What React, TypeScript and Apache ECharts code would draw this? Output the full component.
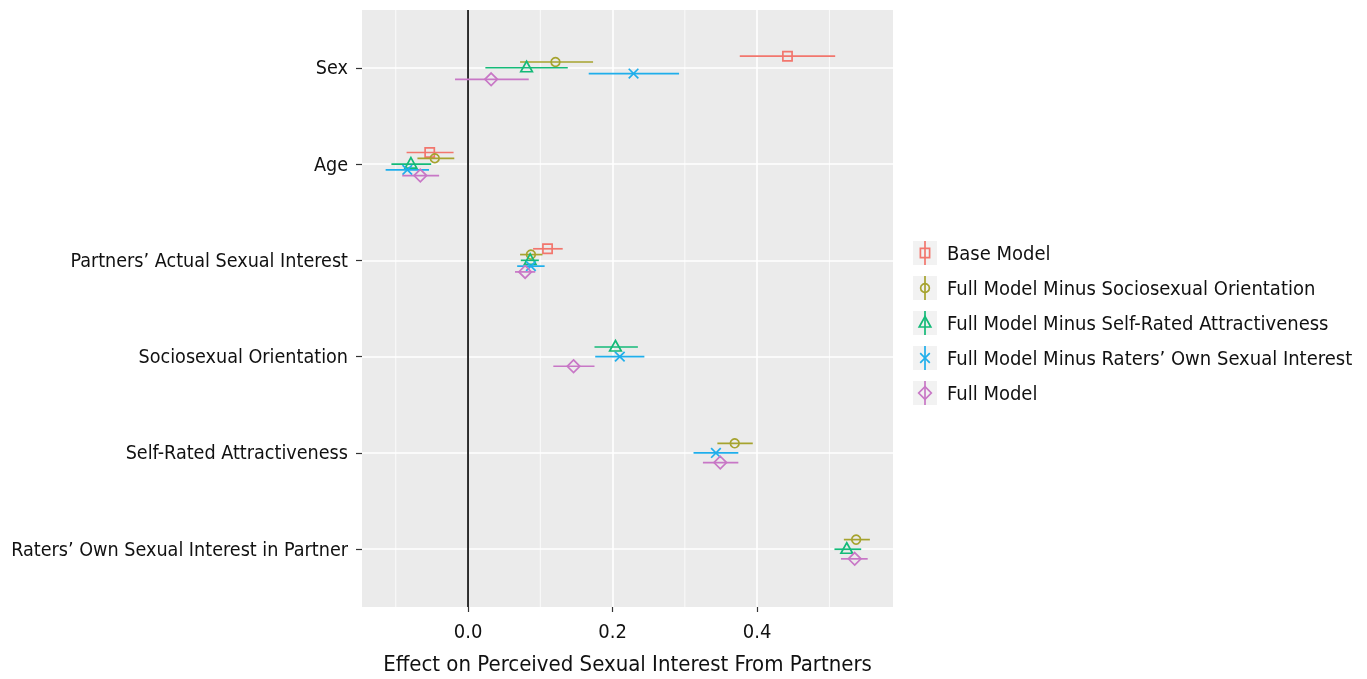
import React, { useEffect, useRef } from "react";
import * as echarts from "echarts";

const CATEGORIES = [
  "Sex",
  "Age",
  "Partners’ Actual Sexual Interest",
  "Sociosexual Orientation",
  "Self-Rated Attractiveness",
  "Raters’ Own Sexual Interest in Partner",
];

const MODELS = [
  "Base Model",
  "Full Model Minus Sociosexual Orientation",
  "Full Model Minus Self-Rated Attractiveness",
  "Full Model Minus Raters’ Own Sexual Interest",
  "Full Model",
];

// estimates / lower / upper per category (null = predictor not in model)
const BASE_EST = [0.442, -0.053, 0.11, null, null, null];
const BASE_LO = [0.376, -0.085, 0.09, null, null, null];
const BASE_HI = [0.508, -0.02, 0.131, null, null, null];

const FMSO_EST = [0.121, -0.046, 0.087, null, 0.369, 0.537];
const FMSO_LO = [0.072, -0.07, 0.072, null, 0.345, 0.52];
const FMSO_HI = [0.173, -0.019, 0.103, null, 0.394, 0.556];

const FMSRA_EST = [0.081, -0.079, 0.086, 0.204, null, 0.524];
const FMSRA_LO = [0.024, -0.106, 0.073, 0.175, null, 0.507];
const FMSRA_HI = [0.138, -0.051, 0.098, 0.235, null, 0.544];

const FMROSI_EST = [0.229, -0.084, 0.087, 0.21, 0.343, null];
const FMROSI_LO = [0.167, -0.114, 0.068, 0.176, 0.312, null];
const FMROSI_HI = [0.292, -0.054, 0.106, 0.244, 0.374, null];

const FULL_EST = [0.032, -0.066, 0.079, 0.146, 0.349, 0.535];
const FULL_LO = [-0.018, -0.091, 0.065, 0.118, 0.325, 0.516];
const FULL_HI = [0.084, -0.04, 0.093, 0.175, 0.374, 0.553];

const X_TICKS = [0, 0.2, 0.4];
const X_MINOR = [-0.1, 0.1, 0.3, 0.5];
const X_MIN = -0.1467;
const X_MAX = 0.588;

const COLORS = ["#F2766D", "#A6A32E", "#14BA78", "#1FAEEB", "#C877C6"];
const SHAPES = ["square", "circle", "triangle", "cross", "diamond"];
const FONT = "'Liberation Sans Narrow', 'DejaVu Sans Condensed', 'Roboto Condensed', 'Noto Sans', sans-serif";
const TEXT_COLOR = "#111";
const DODGE_WIDTH = 0.3;

const SERIES_VALUES = [
  [BASE_EST, BASE_LO, BASE_HI],
  [FMSO_EST, FMSO_LO, FMSO_HI],
  [FMSRA_EST, FMSRA_LO, FMSRA_HI],
  [FMROSI_EST, FMROSI_LO, FMROSI_HI],
  [FULL_EST, FULL_LO, FULL_HI],
];

function symbolEl(shape: string, cx: number, cy: number, color: string, lw = 1.7): any {
  const style = { stroke: color, fill: "none", lineWidth: lw };
  switch (shape) {
    case "square":
      return { type: "rect", shape: { x: cx - 4.6, y: cy - 4.6, width: 9.2, height: 9.2 }, style };
    case "circle":
      return { type: "circle", shape: { cx, cy, r: 4.4 }, style };
    case "triangle":
      return {
        type: "polygon",
        shape: { points: [[cx, cy - 6.5], [cx + 5.8, cy + 4], [cx - 5.8, cy + 4]] },
        style,
      };
    case "cross":
      return {
        type: "group",
        children: [
          { type: "line", shape: { x1: cx - 4.8, y1: cy - 4.8, x2: cx + 4.8, y2: cy + 4.8 }, style },
          { type: "line", shape: { x1: cx - 4.8, y1: cy + 4.8, x2: cx + 4.8, y2: cy - 4.8 }, style },
        ],
      };
    default:
      return {
        type: "polygon",
        shape: { points: [[cx, cy - 6.3], [cx + 6.3, cy], [cx, cy + 6.3], [cx - 6.3, cy]] },
        style,
      };
  }
}

function buildSeriesData(): any[][] {
  const out: any[][] = MODELS.map(() => []);
  CATEGORIES.forEach((_, k) => {
    const present = SERIES_VALUES.map((s, i) => (s[0][k] != null ? i : -1)).filter((i) => i >= 0);
    const n = present.length;
    present.forEach((i, j) => {
      const off = (j - (n - 1) / 2) * (DODGE_WIDTH / n);
      const [est, lo, hi] = SERIES_VALUES[i];
      out[i].push([est[k], lo[k], hi[k], k + 1 + off]);
    });
  });
  return out;
}

export default function App() {
  const ref = useRef<HTMLDivElement>(null);
  useEffect(() => {
    if (!ref.current) return;
    const chart = echarts.init(ref.current, null, { renderer: "svg" });
    const data = buildSeriesData();

    const modelSeries = MODELS.map((name, i) => ({
      name,
      type: "custom",
      z: 5,
      data: data[i],
      encode: { x: [0, 1, 2], y: 3 },
      renderItem: (_p: any, api: any) => {
        const est = api.value(0), lo = api.value(1), hi = api.value(2), y = api.value(3);
        const a = api.coord([lo, y]);
        const b = api.coord([hi, y]);
        const p = api.coord([est, y]);
        return {
          type: "group",
          children: [
            { type: "line", shape: { x1: a[0], y1: a[1], x2: b[0], y2: b[1] }, style: { stroke: COLORS[i], lineWidth: 1.7 } },
            symbolEl(SHAPES[i], p[0], p[1], COLORS[i]),
          ],
        };
      },
    }));

    const vlineSeries = (vals: number[], color: string, width: number, z: number) => ({
      type: "custom",
      z,
      silent: true,
      data: vals.map((v) => [v, 1]),
      encode: { x: 0, y: 1 },
      renderItem: (params: any, api: any) => {
        const x = api.coord([api.value(0), 1])[0];
        const cs = params.coordSys;
        return {
          type: "line",
          shape: { x1: x, y1: cs.y, x2: x, y2: cs.y + cs.height },
          style: { stroke: color, lineWidth: width },
        };
      },
    });

    const legendChildren: any[] = [];
    MODELS.forEach((name, i) => {
      const cy = 253 + 35 * i;
      legendChildren.push(
        { type: "rect", shape: { x: 913, y: cy - 12, width: 24, height: 24 }, style: { fill: "#F2F2F2" } },
        { type: "line", shape: { x1: 925, y1: cy - 12, x2: 925, y2: cy + 12 }, style: { stroke: COLORS[i], lineWidth: 1.7 } },
        symbolEl(SHAPES[i], 925, cy, COLORS[i]),
        {
          type: "text",
          x: 947,
          y: cy,
          style: { text: name, font: `20px ${FONT}`, fill: TEXT_COLOR, verticalAlign: "middle", align: "left" },
        }
      );
    });

    chart.setOption({
      animation: false,
      textStyle: { fontFamily: FONT },
      grid: {
        left: 362,
        right: 474,
        top: 10,
        bottom: 71,
        show: true,
        backgroundColor: "#EBEBEB",
        borderWidth: 0,
      },
      xAxis: {
        type: "value",
        min: X_MIN,
        max: X_MAX,
        name: "Effect on Perceived Sexual Interest From Partners",
        nameLocation: "middle",
        nameGap: 45,
        nameTextStyle: { fontSize: 22, color: TEXT_COLOR, fontFamily: FONT },
        axisLine: { show: false, onZero: false },
        axisTick: { show: true, customValues: X_TICKS, length: 5, lineStyle: { color: "#333", width: 1.2 } },
        axisLabel: {
          customValues: X_TICKS,
          formatter: (v: number) => v.toFixed(1),
          fontSize: 20,
          color: TEXT_COLOR,
          fontFamily: FONT,
          margin: 14,
        },
        splitLine: { show: true, lineStyle: { color: "#FFFFFF", width: 1.6 } },
      },
      yAxis: {
        type: "value",
        inverse: true,
        min: 0.4,
        max: 6.6,
        axisLine: { show: false, onZero: false },
        axisTick: { show: true, customValues: [1, 2, 3, 4, 5, 6], length: 6, lineStyle: { color: "#333", width: 1.2 } },
        axisLabel: {
          customValues: [1, 2, 3, 4, 5, 6],
          formatter: (v: number) => CATEGORIES[Math.round(v) - 1] ?? "",
          fontSize: 19.6,
          color: TEXT_COLOR,
          fontFamily: FONT,
          margin: 14,
        },
        splitLine: { show: true, lineStyle: { color: "#FFFFFF", width: 1.6 } },
      },
      series: [
        vlineSeries(X_MINOR, "#FFFFFF", 0.8, 1),
        vlineSeries([0], "#1A1A1A", 1.8, 3),
        ...modelSeries,
      ],
      graphic: [{ type: "group", children: legendChildren }],
    });
    return () => chart.dispose();
  }, []);
  return <div ref={ref} style={{ position: "fixed", left: 0, top: 0, width: 1367, height: 679 }} />;
}
